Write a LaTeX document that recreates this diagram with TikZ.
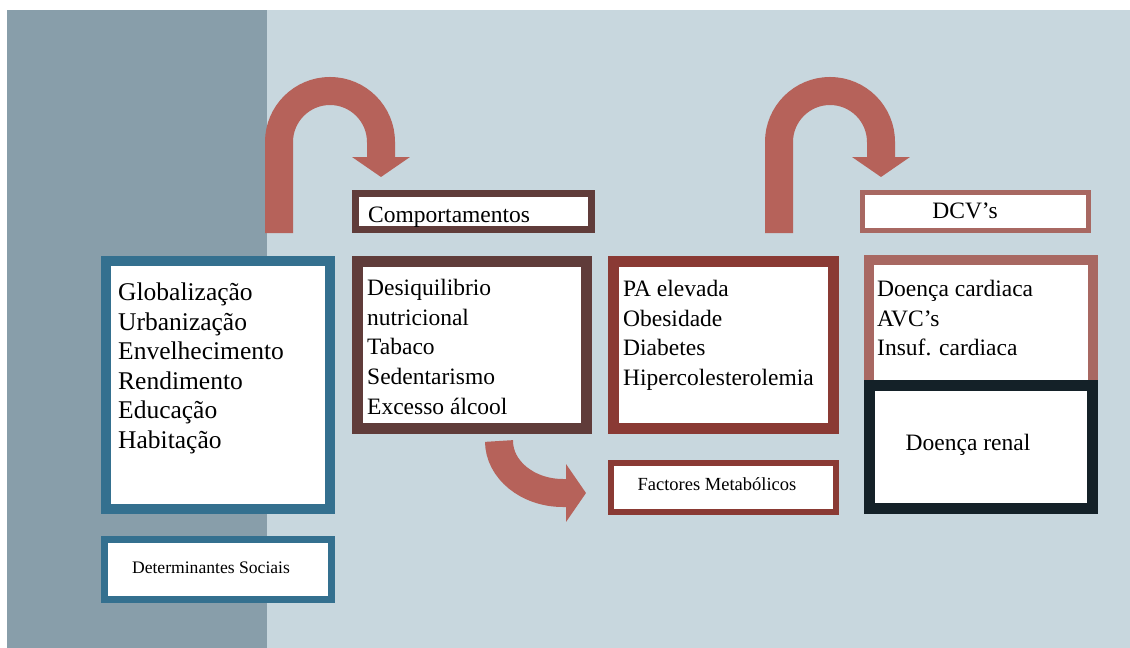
\documentclass[tikz,border=0pt]{standalone}
\usepackage{fontspec}
\setmainfont{Liberation Serif}
\usetikzlibrary{arrows.meta}
\definecolor{stripc}{RGB}{136,158,170}
\definecolor{bgc}{RGB}{200,215,222}
\definecolor{socblue}{RGB}{52,112,143}
\definecolor{behbrown}{RGB}{96,60,58}
\definecolor{metred}{RGB}{138,58,52}
\definecolor{dcvrose}{RGB}{168,104,98}
\definecolor{renblack}{RGB}{20,33,40}
\definecolor{arrowc}{RGB}{182,98,90}
\begin{document}
\begin{tikzpicture}[x=1pt,y=1pt,yscale=-1,
  frame/.style = {draw, fill=white, inner sep=0pt},
  lbl/.style = {inner sep=0pt, align=left, font=\fontsize{23.5}{29.7}\selectfont},
  small/.style = {inner sep=0pt, font=\fontsize{18.5}{22}\selectfont},
  bendarrow/.style = {draw=arrowc, line width=28pt, -{Triangle[width=57pt,length=20pt]}}]
	\useasboundingbox (0,0) rectangle (1130,648);
	% background
	\fill[white] (0,0) rectangle (1130,648);
	\fill[bgc] (7,10) rectangle (1130,648);
	\fill[stripc] (7,10) rectangle (267,648);
	% boxes
	\node[frame, draw=socblue, line width=10pt, minimum width=224pt, minimum height=248pt] (soc) at (218,385) {};
	\node[frame, draw=socblue, line width=7pt, minimum width=227pt, minimum height=60pt] (det) at (218,569.5) {};
	\node[frame, draw=behbrown, line width=7pt, minimum width=236pt, minimum height=36pt] (comp) at (473.5,211.5) {};
	\node[frame, draw=behbrown, line width=11pt, minimum width=229pt, minimum height=167pt] (beh) at (472,345) {};
	\node[frame, draw=metred, line width=11pt, minimum width=220pt, minimum height=167pt] (met) at (723.5,345) {};
	\node[frame, draw=metred, line width=6pt, minimum width=225pt, minimum height=49pt] (fmet) at (723.5,487.5) {};
	\node[frame, draw=dcvrose, line width=5pt, minimum width=226pt, minimum height=38pt] (dcv) at (975.5,211.5) {};
	\node[frame, draw=dcvrose, line width=10pt, minimum width=224pt, minimum height=130pt] (card) at (981,325) {};
	\node[frame, draw=renblack, line width=11pt, minimum width=223pt, minimum height=123pt] (ren) at (981,447) {};
	% texts
	\node[lbl, anchor=north west, font=\fontsize{25.5}{29.5}\selectfont] (socT) at (118,283)
		{Globalização\\Urbanização\\Envelhecimento\\Rendimento\\Educação\\Habitação};
	\node[small, anchor=base, font=\fontsize{17.6}{20}\selectfont] (detT) at (211,573) {Determinantes Sociais};
	\node[lbl, anchor=base west] (compT) at (368,222) {Comportamentos};
	\node[lbl, anchor=north west] (behT) at (367,279)
		{Desiquilibrio\\nutricional\\Tabaco\\Sedentarismo\\Excesso álcool};
	\node[lbl, anchor=north west] (metT) at (623,280)
		{PA elevada\\Obesidade\\Diabetes\\Hipercolesterolemia};
	\node[small, anchor=base] (fmetT) at (717,490) {Factores Metabólicos};
	\node[lbl, anchor=base] (dcvT) at (965,218) {DCV's};
	\node[lbl, anchor=north west] (cardT) at (877,280)
		{Doença cardiaca\\AVC's\\Insuf. cardiaca};
	\node[lbl, anchor=base] (renT) at (968,450) {Doença renal};
	% arrows
	\draw[bendarrow] (279,233) -- (279,142) arc[start angle=180, end angle=360, radius=51] -- (381,177);
	\draw[bendarrow] (779,233) -- (779,142) arc[start angle=180, end angle=360, radius=51] -- (881,177);
	\draw[bendarrow] (499,441) arc[start angle=180, end angle=90, x radius=64, y radius=52] -- (586,493);
\end{tikzpicture}
\end{document}
